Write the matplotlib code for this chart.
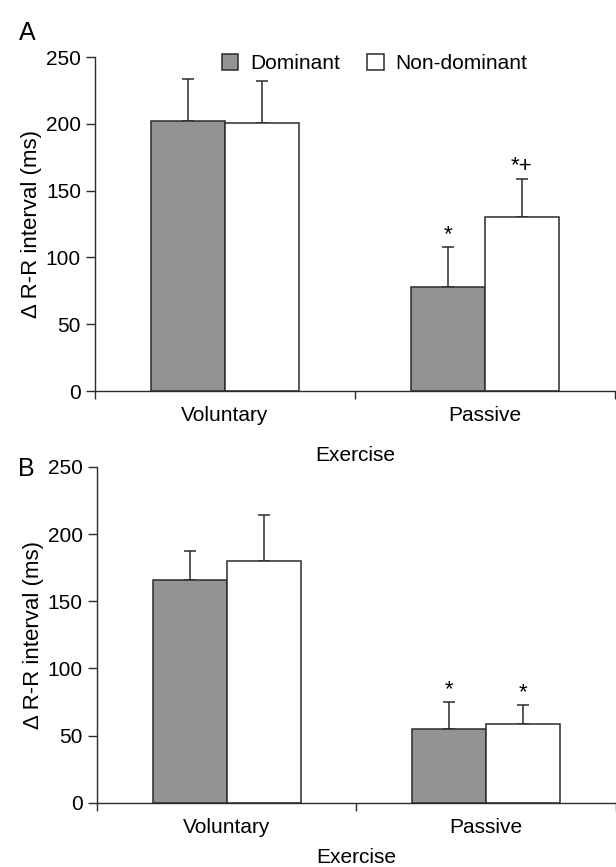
import matplotlib
matplotlib.use("Agg")
import matplotlib.pyplot as plt
from matplotlib.patches import Patch
import numpy as np

plt.rcParams['font.family'] = ['Liberation Sans', 'DejaVu Sans']

categories = ["Voluntary", "Passive"]
series = ["Dominant", "Non-dominant"]
a_dominant = [202, 78]
a_dominant_err = [32, 30]
a_nondominant = [201, 130]
a_nondominant_err = [31, 29]
a_marks_dom = ["", "*"]
a_marks_non = ["", "*+"]

b_dominant = [166, 55]
b_dominant_err = [21, 20]
b_nondominant = [180, 59]
b_nondominant_err = [34, 14]
b_marks_dom = ["", "*"]
b_marks_non = ["", "*"]

yticks = [0, 50, 100, 150, 200, 250]

fig = plt.figure(figsize=(6.16, 8.67), dpi=100)
axA = fig.add_axes([0.154, 0.549, 0.844, 0.385])
axB = fig.add_axes([0.157, 0.074, 0.843, 0.3876])

edge = "#2b2b2b"
gray = "#939393"
w = 0.285
fs = 15

def draw(ax, dom, dom_err, non, non_err, mdom, mnon, xlabelpad):
    x = np.arange(len(categories))
    ax.bar(x - w/2, dom, w, color=gray, edgecolor=edge, linewidth=1.1, zorder=2)
    ax.bar(x + w/2, non, w, color="white", edgecolor=edge, linewidth=1.1, zorder=2)
    ax.errorbar(x - w/2, dom, yerr=[np.zeros(len(dom)), dom_err], fmt="none",
                ecolor=edge, elinewidth=1.1, capsize=4, capthick=1.1, zorder=1)
    ax.errorbar(x + w/2, non, yerr=[np.zeros(len(non)), non_err], fmt="none",
                ecolor=edge, elinewidth=1.1, capsize=4, capthick=1.1, zorder=1)
    for xi, v, e, m in zip(x - w/2, dom, dom_err, mdom):
        if m:
            ax.annotate(m, (xi, v + e), xytext=(0, 1), textcoords="offset points",
                        ha="center", va="bottom", fontsize=16)
    for xi, v, e, m in zip(x + w/2, non, non_err, mnon):
        if m:
            ax.annotate(m, (xi, v + e), xytext=(0, 1), textcoords="offset points",
                        ha="center", va="bottom", fontsize=16)
    ax.set_xlim(-0.5, 1.5)
    ax.set_ylim(0, 250)
    ax.set_yticks(yticks)
    ax.set_xticks(x)
    ax.set_xticklabels(categories, fontsize=fs)
    ax.set_xticks([-0.5, 0.5, 1.5], minor=True)
    ax.tick_params(axis="x", which="major", length=0, pad=11)
    ax.tick_params(axis="x", which="minor", length=6, width=1, color=edge)
    ax.tick_params(axis="y", length=6.5, width=1, color=edge, labelsize=fs, pad=3.5)
    for s in ["top", "right"]:
        ax.spines[s].set_visible(False)
    for s in ["left", "bottom"]:
        ax.spines[s].set_color(edge)
        ax.spines[s].set_linewidth(1.0)
    ax.set_ylabel("\u0394 R-R interval (ms)", fontsize=16, labelpad=3)
    ax.set_xlabel("Exercise", fontsize=fs, labelpad=xlabelpad)

draw(axA, a_dominant, a_dominant_err, a_nondominant, a_nondominant_err, a_marks_dom, a_marks_non, 15)
draw(axB, b_dominant, b_dominant_err, b_nondominant, b_nondominant_err, b_marks_dom, b_marks_non, 8)

handles = [Patch(facecolor=gray, edgecolor=edge, linewidth=1.1),
           Patch(facecolor="white", edgecolor=edge, linewidth=1.1)]
axA.legend(handles, series, loc="center", bbox_to_anchor=(0.5375, 0.982), ncol=2,
           frameon=False, fontsize=fs, handlelength=0.8, handleheight=0.8,
           handletextpad=0.55, columnspacing=1.3, borderpad=0.1)

fig.text(0.03, 0.962, "A", fontsize=18, ha="left", va="center")
fig.text(0.03, 0.459, "B", fontsize=18, ha="left", va="center")

fig.savefig("out.png", dpi=100)
